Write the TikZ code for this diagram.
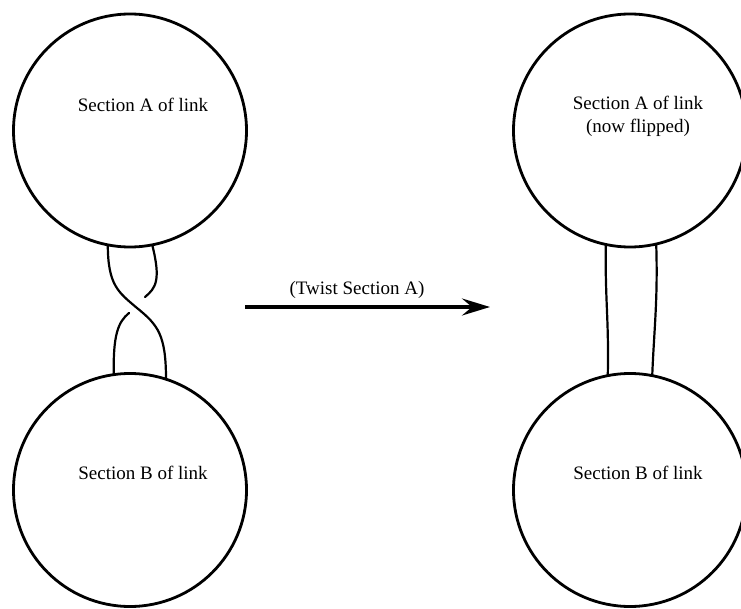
\documentclass[tikz,border=0pt]{standalone}
\usepackage{fontspec}
\setmainfont{Liberation Serif}
\usetikzlibrary{arrows.meta}
\begin{document}
\begin{tikzpicture}[x=1pt,y=-1pt,
  section/.style={circle,draw,line width=2.8pt,minimum size=233pt,inner sep=0pt,outer sep=0pt},
  strand/.style={line width=2.2pt,line cap=round},
  caption/.style={font=\fontsize{19}{23}\selectfont,align=center,inner sep=0pt},
  twistarrow/.style={line width=3.2pt,-{Stealth[length=28pt,width=17pt,inset=10pt]}}]
\useasboundingbox (0,0) rectangle (741,609);
\clip (0,0) rectangle (741,609);

% the two pieces of the link, before the twist
\node[section] (circA) at (130,130.5) {};
\node[section] (circB) at (130,490) {};
\node[caption] (txtA) at (143,105) {Section A of link};
\node[caption] (txtB) at (143,473) {Section B of link};

% the two pieces after section A is flipped
\node[section] (circA2) at (630,130.5) {};
\node[section] (circB2) at (630,490) {};
\node[caption] (txtA2) at (638,116) {Section A of link\\(now flipped)};
\node[caption] (txtB2) at (638,473) {Section B of link};

% crossing between the sections: over strand drawn whole, under strand broken
\draw[strand] (circA.259) .. controls (108,285) and (118,292) .. (137,308)
  .. controls (158,325) and (166,335) .. (circB.72);
\coordinate (gapTop) at (145,297);
\coordinate (gapBot) at (129,313);
\draw[strand] (circA.281) .. controls (161,280) and (156,288) .. (gapTop);
\draw[strand] (gapBot) .. controls (118,322) and (113,335) .. (circB.98);

% untwisted strands
\draw[strand] (circA2.258) .. controls (605,300) and (609,320) .. (circB2.101.5);
\draw[strand] (circA2.283.5) .. controls (658,300) and (654,330) .. (circB2.79);

% the move between the two pictures
\coordinate (arrowStart) at (245,307);
\coordinate (arrowEnd) at (490,307);
\draw[twistarrow] (arrowStart) -- (arrowEnd);
\node[caption] (arrowLabel) at (357,290) {(Twist Section A)};
\end{tikzpicture}
\end{document}
